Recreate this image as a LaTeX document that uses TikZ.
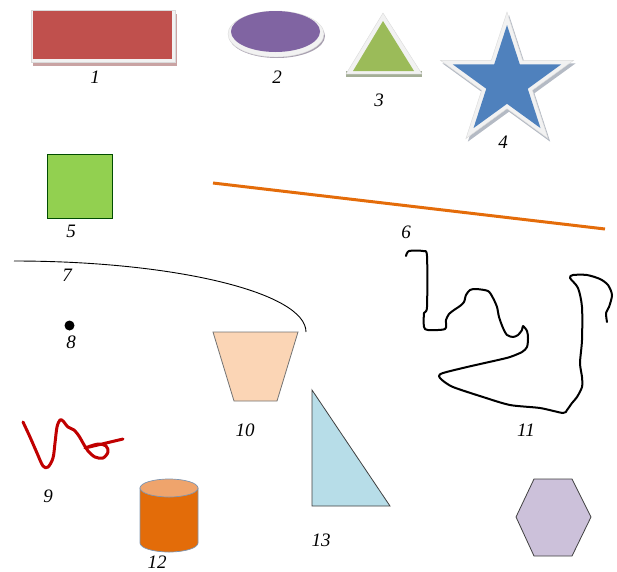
\documentclass[tikz,border=0pt]{standalone}
\usepackage{fontspec}
\setmainfont{Liberation Serif}
\usepackage{tikz}

\definecolor{rectred}{HTML}{C0504D}
\definecolor{shadowred}{HTML}{C9A3A3}
\definecolor{ovalpurple}{HTML}{8064A2}
\definecolor{shadowpurple}{HTML}{A8A0B0}
\definecolor{trigreen}{HTML}{9BBB59}
\definecolor{shadowgreen}{HTML}{A4AE96}
\definecolor{starblue}{HTML}{4F81BD}
\definecolor{shadowblue}{HTML}{B4BAC4}
\definecolor{frameback}{HTML}{F2F2F2}
\definecolor{frameedge}{HTML}{DADADA}
\definecolor{squaregreen}{HTML}{92D050}
\definecolor{lineorange}{HTML}{E46C0A}
\definecolor{peach}{HTML}{FBD5B5}
\definecolor{scribblered}{HTML}{C00000}
\definecolor{cylorange}{HTML}{E36C09}
\definecolor{cyltop}{HTML}{EFA46C}
\definecolor{cyledge}{HTML}{7F95B0}
\definecolor{lightblue}{HTML}{B7DDE8}
\definecolor{lilac}{HTML}{CCC1DA}

\begin{document}
\begin{tikzpicture}[
    x=1pt, y=-1pt,
    lbl/.style={font=\fontsize{19}{22}\selectfont\itshape, inner sep=0pt},
    framed/.style={fill=frameback, draw=frameedge, thin},
    outline/.style={draw=black!75, line width=0.8pt},
    freehand/.style={line cap=round, line join=round}
]
    \useasboundingbox (0,0) rectangle (617,571);

    % Shape 1
    \fill[shadowred] (33,14) rectangle (177,66);
    \filldraw[framed] (31,10) rectangle (175,62);
    \fill[rectred] (33,11) rectangle (172,59);

    % Shape 2
    \fill[shadowpurple] (277,36) ellipse[x radius=48pt, y radius=22pt];
    \filldraw[framed] (276,34) ellipse[x radius=48pt, y radius=23pt];
    \fill[ovalpurple] (275.5,31.5) ellipse[x radius=44.5pt, y radius=20.5pt];

    % Shape 3
    \fill[shadowgreen] (346,71) rectangle (422,77);
    \filldraw[framed] (383,13) -- (346,74) -- (422,74) -- cycle;
    \fill[trigreen] (383,21) -- (353,71) -- (414,71) -- cycle;

    % Shape 4
    \begin{scope}[shift={(507,82)}]
        \fill[shadowblue, shift={(2pt,-3pt)}] (90:70pt) -- (126:26.7pt) -- (162:70pt) -- (198:26.7pt) -- (234:70pt)
            -- (270:26.7pt) -- (306:70pt) -- (342:26.7pt) -- (18:70pt) -- (54:26.7pt) -- cycle;
        \filldraw[framed] (90:70pt) -- (126:26.7pt) -- (162:70pt) -- (198:26.7pt) -- (234:70pt)
            -- (270:26.7pt) -- (306:70pt) -- (342:26.7pt) -- (18:70pt) -- (54:26.7pt) -- cycle;
        \fill[starblue] (90:57pt) -- (126:21.8pt) -- (162:57pt) -- (198:21.8pt) -- (234:57pt)
            -- (270:21.8pt) -- (306:57pt) -- (342:21.8pt) -- (18:57pt) -- (54:21.8pt) -- cycle;
    \end{scope}

    % Shape 5
    \filldraw[fill=squaregreen, draw=black!70!green, line width=0.8pt] (47,154) rectangle (112,218);

    % Shape 6
    \draw[lineorange, line width=3pt] (213,183) -- (605,229);

    % Shape 7
    \draw[black, line width=0.9pt] (14,261) arc[start angle=90, end angle=0, x radius=292pt, y radius=71pt];

    % Shape 8
    \fill[black] (69.5,325.5) circle[radius=5pt];

    % Shape 9
    \draw[scribblered, line width=3pt, freehand] plot[smooth, tension=0.55] coordinates {
        (23,422) (30,437) (37,453) (43,466) (48,467) (53,458) (55,443) (57,427) (60,420) (63,421)
        (68,427) (74,430) (79,436) (83,443) (88,451) (95,457) (103,458) (108,452) (106,446)
        (98,444) (85,448)} -- (123,439);

    % Shape 10
    \filldraw[fill=peach, draw=black!55, line width=0.8pt] (213,332) -- (298,332) -- (277,401) -- (234,401) -- cycle;

    % Shape 11
    \draw[black, line width=2pt, freehand] plot[smooth, tension=0.45] coordinates {
        (406,256) (409,251) (423,251) (427,256) (427,307) (424,313) (424,327) (428,330) (445,329)
        (446,320) (449,314) (454,310) (460,306) (464,302) (466,295) (470,290) (476,289) (488,291)
        (493,298) (497,307) (499,317) (503,328) (507,335) (513,337) (518,335) (522,330) (523,326)
        (527,331) (528,338) (527,347) (522,352) (510,357) (498,360) (467,367) (443,373) (439,376)
        (442,380) (453,387) (483,397) (510,405) (540,408) (563,413) (567,410) (572,403) (577,397)
        (582,387) (582,377) (580,363) (582,340) (582,307) (578,288) (570,278) (573,275) (587,275)
        (600,279) (608,285) (612,295) (609,307) (606,313) (607,322)};

    % Shape 12
    \filldraw[fill=cylorange, draw=cyledge, line width=0.7pt] (140,488) -- (140,543)
        arc[start angle=180, end angle=360, x radius=29pt, y radius=9pt] -- (198,488) -- cycle;
    \filldraw[fill=cyltop, draw=cyledge, line width=0.7pt] (169,488) ellipse[x radius=29pt, y radius=9pt];

    % Shape 13
    \filldraw[fill=lightblue, draw=black!75, line width=0.8pt] (312,390) -- (312,506) -- (390,506) -- cycle;

    % Shape 14
    \filldraw[fill=lilac, outline] (516,517) -- (534,479) -- (572,479) -- (591,517) -- (572,556) -- (534,556) -- cycle;

    % Labels
    \node[lbl] (rectlbl) at (95,77) {1};
    \node[lbl] (ovallbl) at (277,77) {2};
    \node[lbl] (trilbl) at (379,100) {3};
    \node[lbl] (starlbl) at (503,142) {4};
    \node[lbl] (squarelbl) at (71,231) {5};
    \node[lbl] (linelbl) at (406,232) {6};
    \node[lbl] (curvelbl) at (67,275) {7};
    \node[lbl] (dotlbl) at (71,342) {8};
    \node[lbl] (scribblelbl) at (48,496) {9};
    \node[lbl] (traplbl) at (245,430) {10};
    \node[lbl] (freehandlbl) at (526,430) {11};
    \node[lbl] (cyllbl) at (157,562) {12};
    \node[lbl] (rightlbl) at (321,540) {13};
\end{tikzpicture}
\end{document}
